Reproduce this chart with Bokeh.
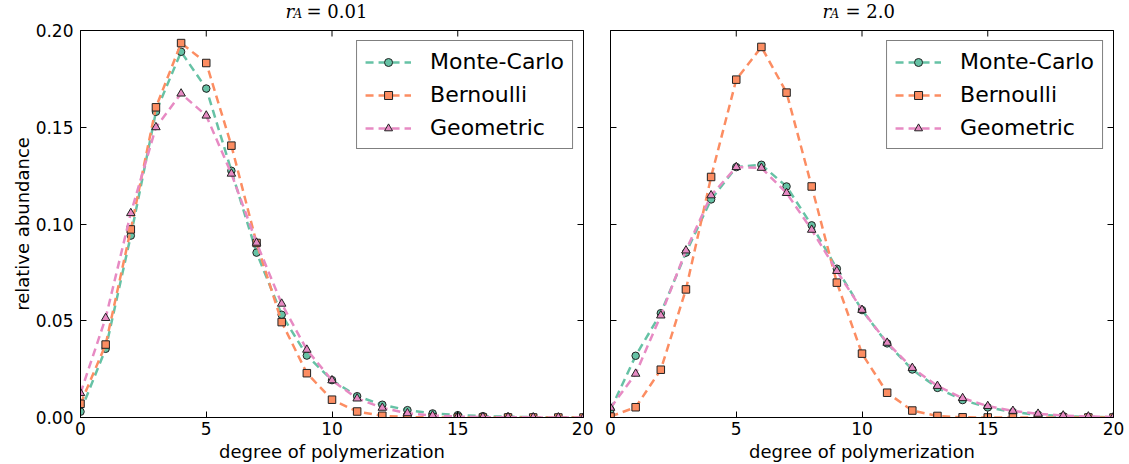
from bokeh.plotting import figure
from bokeh.models import (Legend, LegendItem, LinearAxis, FixedTicker, Range1d,
                          Label, NumeralTickFormatter)
from bokeh.layouts import row, column
from bokeh.embed import file_html
from bokeh.resources import INLINE

# ---------------- data ----------------
degree = list(range(21))

# r_A = 0.01
mc_001 = [0.003, 0.0355, 0.094, 0.158, 0.189, 0.170, 0.1275, 0.0852, 0.0531, 0.032,
          0.0193, 0.011, 0.0066, 0.0038, 0.0021, 0.0012, 0.0007, 0.0004, 0.0002, 0.0001, 0.00005]
bern_001 = [0.0071, 0.0377, 0.0972, 0.1603, 0.1935, 0.1832, 0.1405, 0.0902, 0.0493, 0.0229,
            0.0092, 0.0031, 0.0009, 0.0002, 0.00005, 0.0, 0.0, 0.0, 0.0, 0.0, 0.0]
geo_001 = [0.0126, 0.0514, 0.1056, 0.150, 0.1674, 0.156, 0.126, 0.0903, 0.0588, 0.035,
           0.0192, 0.0098, 0.0050, 0.0022, 0.0010, 0.0005, 0.0002, 0.0001, 0.00004, 0.00002, 0.00001]

# r_A = 2.0
mc_2 = [0.004, 0.0319, 0.0539, 0.0852, 0.1127, 0.1294, 0.1306, 0.1194, 0.0993, 0.0769,
        0.0555, 0.0383, 0.0248, 0.0153, 0.0090, 0.0052, 0.0028, 0.0014, 0.0007, 0.0003, 0.0001]
bern_2 = [0.0005, 0.0053, 0.0247, 0.0662, 0.1243, 0.1746, 0.1915, 0.1679, 0.1194, 0.0697,
          0.033, 0.0128, 0.0036, 0.0008, 0.0001, 0.00002, 0.0, 0.0, 0.0, 0.0, 0.0]
geo_2 = [0.005, 0.0226, 0.0527, 0.0863, 0.1148, 0.1294, 0.129, 0.116, 0.0970, 0.0757,
         0.0556, 0.0386, 0.0256, 0.0163, 0.0100, 0.0059, 0.0034, 0.0019, 0.0010, 0.0005, 0.0003]

series_names = ["Monte-Carlo", "Bernoulli", "Geometric"]
colors = ["#66c2a5", "#fc8d62", "#e78ac3"]
markers = ["circle", "square", "triangle"]
marker_sizes = [7.5, 7.5, 8.5]

x_ticks = [0, 5, 10, 15, 20]
y_ticks = [0.0, 0.05, 0.10, 0.15, 0.20]

FONT = "DejaVu Sans"
TICK_FS = "17px"
TITLE_H = 21
MAIN_TOP = 9
MAIN_H = 464 - TITLE_H
Y_MAX = 0.20


def hide_labels(ax):
    ax.major_label_text_color = None
    ax.major_label_text_font_size = "1px"
    ax.major_label_standoff = 0


def make_title(width, border_left, border_right, r_x, rest_x, rest_text):
    t = figure(width=width, height=TITLE_H, output_backend="svg", toolbar_location=None,
               title=None, x_axis_location=None, y_axis_location=None,
               x_range=Range1d(0, 1), y_range=Range1d(0, 1),
               min_border_left=border_left, min_border_right=border_right,
               min_border_top=0, min_border_bottom=0)
    t.toolbar.logo = None
    t.grid.visible = False
    t.outline_line_color = None
    t.background_fill_color = "white"
    t.border_fill_color = "white"
    t.add_layout(Label(x=r_x, y=10.5, x_units="screen", y_units="screen", text="r",
                       text_font="DejaVu Serif", text_font_style="italic",
                       text_font_size="18px", text_baseline="alphabetic",
                       text_color="black"))
    t.add_layout(Label(x=r_x + 8, y=7.5, x_units="screen", y_units="screen", text="A",
                       text_font="DejaVu Serif", text_font_style="italic",
                       text_font_size="12px", text_baseline="alphabetic",
                       text_color="black"))
    t.add_layout(Label(x=rest_x, y=10.5, x_units="screen", y_units="screen", text=rest_text,
                       text_font="DejaVu Serif", text_font_size="18px",
                       text_baseline="alphabetic", text_color="black"))
    return t


def make_panel(series, show_ylabel, width, border_left, border_right):
    p = figure(width=width, height=MAIN_H, output_backend="svg", toolbar_location=None,
               title=None,
               x_range=Range1d(0, 20), y_range=Range1d(0, Y_MAX),
               min_border_left=border_left, min_border_right=border_right,
               min_border_top=MAIN_TOP, min_border_bottom=47)
    p.toolbar.logo = None
    p.grid.visible = False
    p.outline_line_color = "black"
    p.outline_line_width = 1
    p.background_fill_color = "white"
    p.border_fill_color = "white"

    # extra axis for ticks on the right
    p.add_layout(LinearAxis(), "right")

    for ax in p.xaxis:
        ax.ticker = FixedTicker(ticks=x_ticks)
    for ax in p.yaxis:
        ax.ticker = FixedTicker(ticks=y_ticks)
        ax.formatter = NumeralTickFormatter(format="0.00")

    for ax in list(p.xaxis) + list(p.yaxis):
        ax.major_tick_in = 6
        ax.major_tick_out = 0
        ax.minor_tick_line_color = None
        ax.axis_line_color = "black"
        ax.major_tick_line_color = "black"
        ax.major_label_text_font = FONT
        ax.major_label_text_font_size = TICK_FS
        ax.major_label_text_color = "black"
        ax.axis_label_text_font = FONT
        ax.axis_label_text_font_size = "18px"
        ax.axis_label_text_font_style = "normal"
        ax.axis_label_text_color = "black"

    hide_labels(p.right[0])

    # inward ticks along the top edge, at the x tick positions
    tick_len = Y_MAX * 6.0 / 387.0
    p.segment(x0=x_ticks, y0=[Y_MAX] * len(x_ticks), x1=x_ticks,
              y1=[Y_MAX - tick_len] * len(x_ticks), line_color="black", line_width=1)

    bottom = p.below[0]
    bottom.axis_label = "degree of polymerization"
    bottom.major_label_standoff = 4
    bottom.axis_label_standoff = 3

    left = p.left[0]
    left.major_label_standoff = 7
    if show_ylabel:
        left.axis_label = "relative abundance"
        left.axis_label_standoff = 0
    else:
        hide_labels(left)

    items = []
    for vals, name, col, mk, ms in zip(series, series_names, colors, markers, marker_sizes):
        ln = p.line(degree, vals, line_color=col, line_width=2.5, line_dash="8 5")
        sc = p.scatter(degree, vals, marker=mk, size=ms, fill_color=col,
                       line_color="#222222", line_width=1)
        items.append(LegendItem(label=name, renderers=[ln, sc]))

    legend = Legend(items=items, location="top_right", margin=10,
                    border_line_color="black", border_line_width=1,
                    background_fill_color="white", background_fill_alpha=1.0,
                    label_text_font=FONT, label_text_font_size="22px",
                    label_text_color="black",
                    glyph_width=46, glyph_height=20, label_height=20,
                    label_standoff=19, padding=8, spacing=8)
    p.add_layout(legend)
    return p


t1 = make_title(593, 80, 10, 205, 226, "= 0.01")
p1 = make_panel([mc_001, bern_001, geo_001], True, 593, 80, 10)
t2 = make_title(536, 17, 16, 212, 235, "= 2.0")
p2 = make_panel([mc_2, bern_2, geo_2], False, 536, 17, 16)

layout = row(column(t1, p1), column(t2, p2))
open("out.html", "w").write(file_html(layout, INLINE))
